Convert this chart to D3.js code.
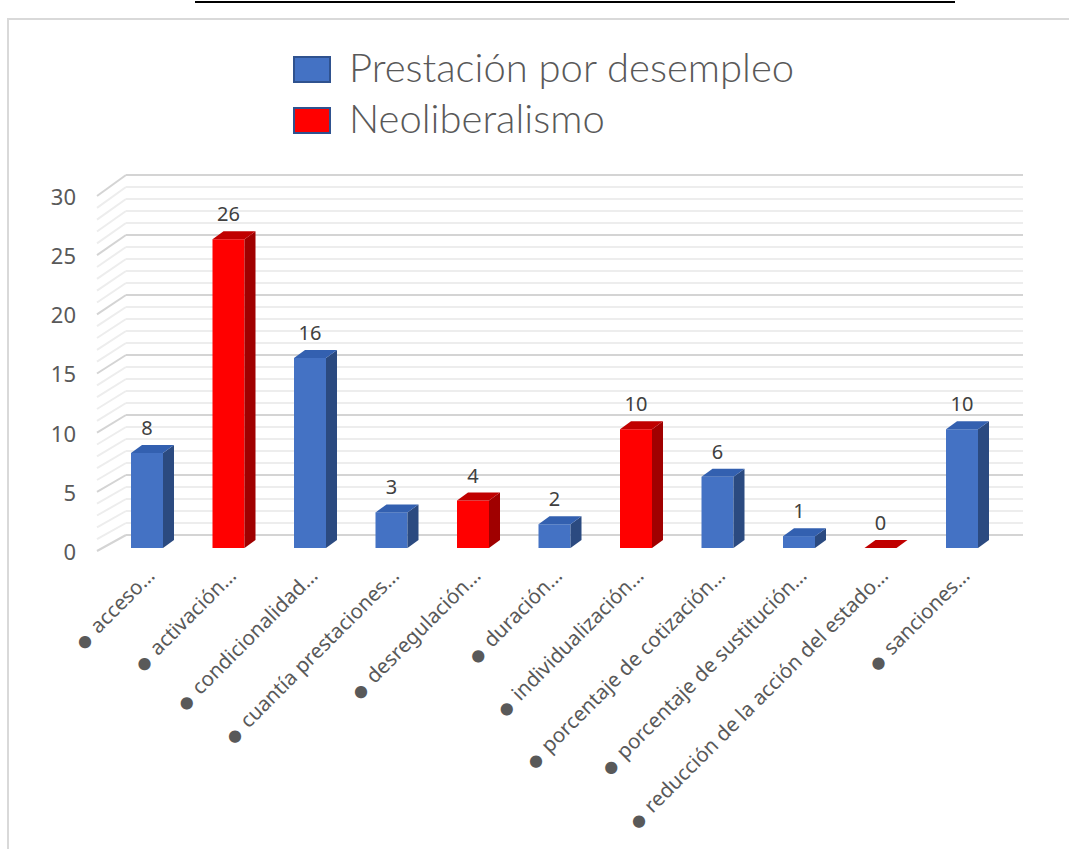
<!DOCTYPE html>
<html>
<head>
<meta charset="utf-8">
<script src="https://cdn.jsdelivr.net/npm/d3@7"></script>
<style>
  body { margin: 0; background: #fff; }
  svg { display: block; }
  .lbl { font-family: "Noto Sans", "DejaVu Sans", sans-serif; }
</style>
</head>
<body>
<svg id="mySVG" width="1069" height="849"></svg>
<script>
// data
var categories = ["acceso…", "activación…", "condicionalidad…", "cuantía prestaciones…",
  "desregulación…", "duración…", "individualización…", "porcentaje de cotización…",
  "porcentaje de sustitución…", "reducción de la acción del estado…", "sanciones…"];
var prestacion = [8, null, 16, 3, null, 2, null, 6, 1, null, 10];
var neoliberalismo = [null, 26, null, null, 4, null, 10, null, null, 0, null];
var seriesNames = ["Prestación por desempleo", "Neoliberalismo"];
var yTicks = [0, 5, 10, 15, 20, 25, 30];

var colors = {
  front: ["#4472c4", "#ff0000"],
  side: ["#2b4a80", "#a00000"],
  top: ["#3360b0", "#c00000"],
  edge: ["#2f528f", "#2f528f"]
};

var svg = d3.select('#mySVG');

// chart frame + the black line at the top
svg.append("path")
  .attr("d", "M8,849 L8,19 L1069,19")
  .attr("fill", "none")
  .attr("stroke", "#d9d9d9")
  .attr("stroke-width", 2);
svg.append("line")
  .attr("x1", 195).attr("x2", 955)
  .attr("y1", 2).attr("y2", 2)
  .attr("stroke", "#000").attr("stroke-width", 2);

// scales
var yBack = d3.scaleLinear().domain([0, 30]).range([535, 175]);
var yFront = d3.scaleLinear().domain([0, 30]).range([551, 196]);
var yBar = d3.scaleLinear().domain([0, 30]).range([548, 548 - 30 * 11.875]);
var x = d3.scalePoint().domain(categories).range([147, 962]);
var barW = 32, depthX = 11, depthY = 8;
var wallLeft = 126, wallRight = 1023, sideLeft = 97;

// gridlines (minor every 1, major every 5)
var gridVals = d3.range(0, 31);
var grid = svg.append("g");
grid.selectAll("line.back")
  .data(gridVals)
  .enter()
  .append("line")
  .attr("class", "back")
  .attr("x1", wallLeft).attr("x2", wallRight)
  .attr("y1", function(d) { return yBack(d); })
  .attr("y2", function(d) { return yBack(d); })
  .attr("stroke", function(d) { return d % 5 === 0 ? "#d4d4d4" : "#ededed"; })
  .attr("stroke-width", 2);
grid.selectAll("line.side")
  .data(gridVals)
  .enter()
  .append("line")
  .attr("class", "side")
  .attr("x1", sideLeft).attr("x2", wallLeft)
  .attr("y1", function(d) { return yFront(d); })
  .attr("y2", function(d) { return yBack(d); })
  .attr("stroke", function(d) { return d % 5 === 0 ? "#d4d4d4" : "#ededed"; })
  .attr("stroke-width", 2);

// y tick labels
svg.append("g").selectAll("text")
  .data(yTicks)
  .enter()
  .append("text")
  .attr("class", "lbl")
  .attr("x", 76)
  .attr("y", function(d) { return yFront(d) + 1; })
  .attr("dy", "0.36em")
  .attr("text-anchor", "end")
  .attr("font-size", 22)
  .attr("fill", "#595959")
  .text(function(d) { return d; });

// one record per category
var bars = categories.map(function(c, i) {
  var s = prestacion[i] != null ? 0 : 1;
  var v = s === 0 ? prestacion[i] : neoliberalismo[i];
  return { cat: c, s: s, v: v };
});

var barG = svg.append("g").selectAll("g")
  .data(bars)
  .enter()
  .append("g");

barG.filter(function(d) { return d.v > 0; })
  .append("rect")
  .attr("x", function(d) { return x(d.cat) - barW / 2; })
  .attr("y", function(d) { return yBar(d.v); })
  .attr("width", barW)
  .attr("height", function(d) { return yBar(0) - yBar(d.v); })
  .attr("fill", function(d) { return colors.front[d.s]; });

barG.filter(function(d) { return d.v > 0; })
  .append("path")
  .attr("d", function(d) {
    var r = x(d.cat) + barW / 2, t = yBar(d.v), b = yBar(0);
    return "M" + r + "," + t + " L" + (r + depthX) + "," + (t - depthY) +
      " L" + (r + depthX) + "," + (b - depthY) + " L" + r + "," + b + "Z";
  })
  .attr("fill", function(d) { return colors.side[d.s]; });

barG.append("path")
  .attr("d", function(d) {
    var l = x(d.cat) - barW / 2, r = l + barW, t = yBar(d.v);
    return "M" + l + "," + t + " L" + r + "," + t + " L" + (r + depthX) + "," + (t - depthY) +
      " L" + (l + depthX) + "," + (t - depthY) + "Z";
  })
  .attr("fill", function(d) { return colors.top[d.s]; });

// value labels
barG.append("text")
  .attr("class", "lbl")
  .attr("x", function(d) { return x(d.cat); })
  .attr("y", function(d) { return yBar(d.v) - 18; })
  .attr("text-anchor", "middle")
  .attr("font-size", 20)
  .attr("fill", "#404040")
  .text(function(d) { return d.v; });

// category labels, rotated
var lab = svg.append("g").selectAll("text")
  .data(categories)
  .enter()
  .append("text")
  .attr("class", "lbl")
  .attr("transform", function(d) { return "translate(" + (x(d) + 9) + ",577) rotate(-45)"; })
  .attr("text-anchor", "end")
  .attr("font-size", 20.5)
  .attr("fill", "#595959");
lab.append("tspan").attr("font-size", 16).text("●");
lab.append("tspan").attr("dx", 8).text(function(d) { return d; });

// legend
var legend = svg.append("g").selectAll("g")
  .data(seriesNames)
  .enter()
  .append("g")
  .attr("transform", function(d, i) { return "translate(0," + (i * 51) + ")"; });
legend.append("rect")
  .attr("x", 294).attr("y", 57)
  .attr("width", 36).attr("height", 25)
  .attr("fill", function(d, i) { return colors.front[i]; })
  .attr("stroke", function(d, i) { return colors.edge[i]; })
  .attr("stroke-width", 2);
legend.append("text")
  .attr("x", 349).attr("y", 82)
  .attr("font-family", "Lato, sans-serif")
  .attr("font-weight", 300)
  .attr("font-size", 40)
  .attr("fill", "#595959")
  .text(function(d) { return d; });
</script>
</body>
</html>
